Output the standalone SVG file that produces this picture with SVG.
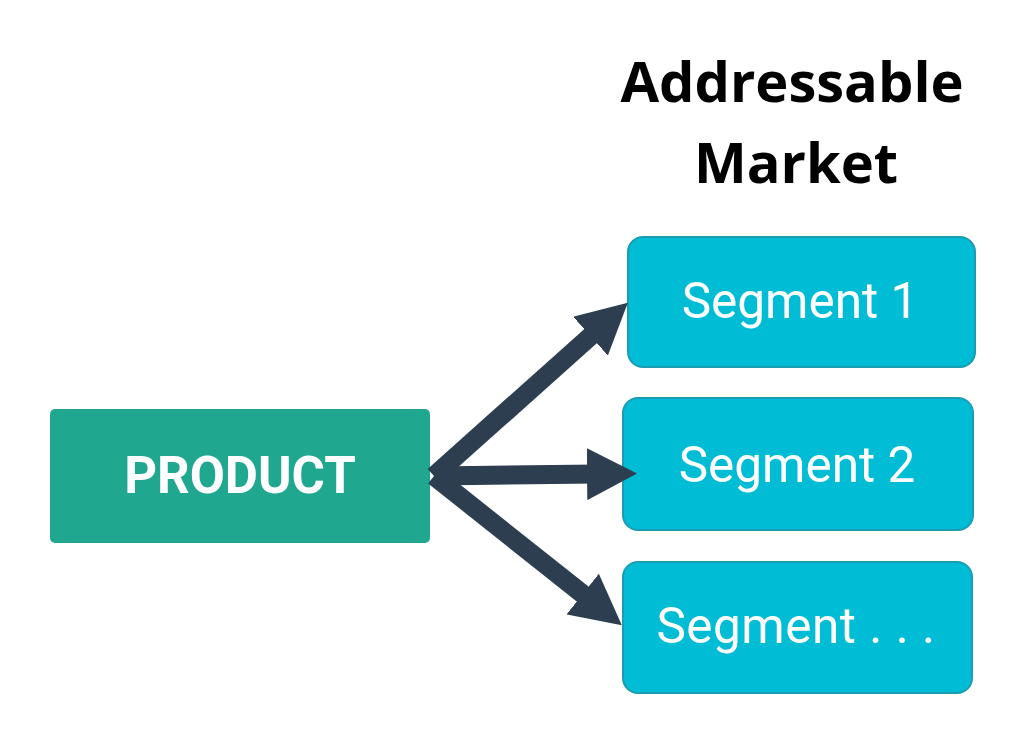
<svg xmlns="http://www.w3.org/2000/svg" width="1024" height="753" viewBox="0 0 1024 753">
<style>
.seg{fill:#00bcd4;stroke:#1a9db2;stroke-width:2}
.segt{font-family:Roboto,"Noto Sans",sans-serif;font-size:49.5px;fill:#ffffff;text-anchor:middle}
.conn{stroke:#2c3e50;stroke-width:19;fill:none}
.title{font-family:"Open Sans","DejaVu Sans",sans-serif;font-weight:bold;font-size:56px;fill:#000000;text-anchor:middle}
</style>
<defs>
<marker id="ah" markerUnits="userSpaceOnUse" markerWidth="50" markerHeight="52" refX="10" refY="26" orient="auto">
<path d="M0,0 L50,26 L0,52 z" fill="#2c3e50"/>
</marker>
</defs>
<rect width="1024" height="753" fill="#ffffff"/>
<g id="title">
<text class="title" x="792" y="102">Addressable</text>
<text class="title" x="796" y="183">Market</text>
</g>
<g id="product">
<rect x="50" y="409" width="380" height="134" rx="5" fill="#1fa88f"/>
<text x="240" y="493" font-family="Roboto,'Noto Sans',sans-serif" font-weight="bold" font-size="51" fill="#ffffff" text-anchor="middle">PRODUCT</text>
</g>
<g id="segment1">
<rect class="seg" x="628" y="237" width="347" height="130" rx="15"/>
<text class="segt" x="800" y="318">Segment 1</text>
</g>
<g id="segment2">
<rect class="seg" x="623" y="398" width="350" height="132" rx="15"/>
<text class="segt" x="797" y="482">Segment 2</text>
</g>
<g id="segment3">
<rect class="seg" x="623" y="562" width="349" height="131" rx="15"/>
<text class="segt" x="796" y="643" letter-spacing="0.5">Segment . . .</text>
</g>
<g id="connectors">
<line class="conn" x1="434" y1="476" x2="598" y2="329.5" marker-end="url(#ah)"/>
<line class="conn" x1="434" y1="476" x2="597" y2="474" marker-end="url(#ah)"/>
<line class="conn" x1="434" y1="476" x2="590.5" y2="600.3" marker-end="url(#ah)"/>
</g>
</svg>
